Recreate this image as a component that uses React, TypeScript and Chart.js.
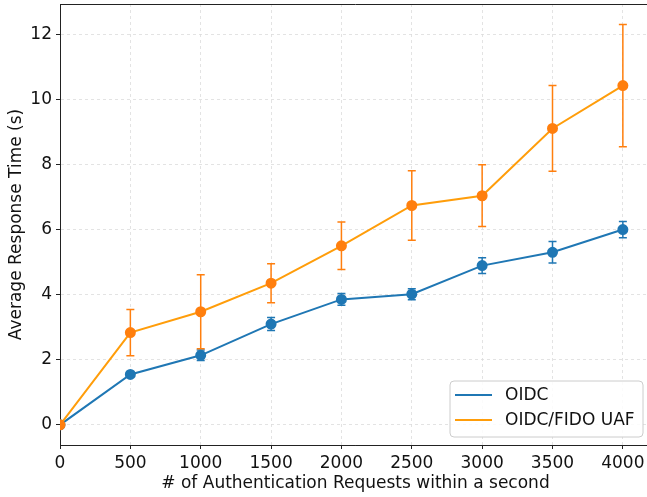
import React, { useEffect, useRef } from "react";
import { Chart, registerables } from "chart.js";

Chart.register(...registerables);

const requests = [0, 500, 1000, 1500, 2000, 2500, 3000, 3500, 4000];
const oidcMean = [0, 1.55, 2.14, 3.1, 3.86, 4.02, 4.9, 5.31, 6.01];
const oidcErr = [0, 0.05, 0.16, 0.2, 0.18, 0.17, 0.24, 0.33, 0.25];
const fidoMean = [0, 2.84, 3.48, 4.36, 5.51, 6.75, 7.05, 9.12, 10.44];
const fidoErr = [0, 0.71, 1.14, 0.6, 0.73, 1.07, 0.95, 1.32, 1.88];
const xTicks = [0, 500, 1000, 1500, 2000, 2500, 3000, 3500, 4000];
const yTicks = [0, 2, 4, 6, 8, 10, 12];
const seriesNames = ["OIDC", "OIDC/FIDO UAF"];

const BLUE = "#1f77b4";
const ORANGE_MARK = "#ff7f0e";
const ORANGE_LINE = "#ff9d0a";
const FONT = "'DejaVu Sans', sans-serif";

const errorBarPlugin = {
  id: "errorBars",
  beforeDatasetsDraw(chart: any) {
    const ctx = chart.ctx;
    const xs = chart.scales.x;
    const ys = chart.scales.y;
    const sets = [
      { mean: oidcMean, err: oidcErr, color: BLUE },
      { mean: fidoMean, err: fidoErr, color: ORANGE_MARK },
    ];
    ctx.save();
    for (const s of sets) {
      ctx.strokeStyle = s.color;
      ctx.lineWidth = 1.5;
      for (let i = 0; i < requests.length; i++) {
        if (!s.err[i]) continue;
        const px = xs.getPixelForValue(requests[i]);
        const top = ys.getPixelForValue(s.mean[i] + s.err[i]);
        const bot = ys.getPixelForValue(s.mean[i] - s.err[i]);
        ctx.beginPath();
        ctx.moveTo(px, top);
        ctx.lineTo(px, bot);
        ctx.moveTo(px - 4, top);
        ctx.lineTo(px + 4, top);
        ctx.moveTo(px - 4, bot);
        ctx.lineTo(px + 4, bot);
        ctx.stroke();
      }
    }
    ctx.restore();
  },
  afterDraw(chart: any) {
    const ctx = chart.ctx;
    const a = chart.chartArea;
    ctx.save();
    // top spine
    ctx.strokeStyle = "#222";
    ctx.lineWidth = 1;
    ctx.beginPath();
    ctx.moveTo(a.left, a.top + 0.5);
    ctx.lineTo(a.right, a.top + 0.5);
    ctx.stroke();
    // legend
    const bx = 450, by = 381, bw = 193, bh = 56, r = 4;
    ctx.fillStyle = "rgba(255,255,255,0.85)";
    ctx.strokeStyle = "#cccccc";
    ctx.lineWidth = 1;
    ctx.beginPath();
    ctx.moveTo(bx + r, by);
    ctx.lineTo(bx + bw - r, by);
    ctx.arcTo(bx + bw, by, bx + bw, by + r, r);
    ctx.lineTo(bx + bw, by + bh - r);
    ctx.arcTo(bx + bw, by + bh, bx + bw - r, by + bh, r);
    ctx.lineTo(bx + r, by + bh);
    ctx.arcTo(bx, by + bh, bx, by + bh - r, r);
    ctx.lineTo(bx, by + r);
    ctx.arcTo(bx, by, bx + r, by, r);
    ctx.closePath();
    ctx.fill();
    ctx.stroke();
    const colors = [BLUE, ORANGE_LINE];
    ctx.font = `17px ${FONT}`;
    ctx.textBaseline = "middle";
    ctx.textAlign = "left";
    for (let i = 0; i < seriesNames.length; i++) {
      const y = 395 + i * 25;
      ctx.strokeStyle = colors[i];
      ctx.lineWidth = 2;
      ctx.beginPath();
      ctx.moveTo(455, y);
      ctx.lineTo(492, y);
      ctx.stroke();
      ctx.fillStyle = "#111";
      ctx.fillText(seriesNames[i], 505, y + 1);
    }
    ctx.restore();
  },
};

export default function App() {
  const ref = useRef<HTMLCanvasElement>(null);
  useEffect(() => {
    if (!ref.current) return;
    const gridCommon = {
      color: "#dcdcdc",
      lineWidth: 0.8,
      tickColor: "#222",
      tickBorderDash: [],
      tickWidth: 1,
      tickLength: 4,
      drawTicks: true,
    };
    const chart = new Chart(ref.current, {
      type: "line",
      data: {
        datasets: [
          {
            label: seriesNames[0],
            data: requests.map((x, i) => ({ x, y: oidcMean[i] })),
            borderColor: BLUE,
            backgroundColor: BLUE,
            pointBackgroundColor: BLUE,
            pointBorderColor: BLUE,
            pointRadius: 4.5,
            borderWidth: 2,
            order: 1,
          },
          {
            label: seriesNames[1],
            data: requests.map((x, i) => ({ x, y: fidoMean[i] })),
            borderColor: ORANGE_LINE,
            backgroundColor: ORANGE_MARK,
            pointBackgroundColor: ORANGE_MARK,
            pointBorderColor: ORANGE_MARK,
            pointRadius: 4.5,
            borderWidth: 2,
            order: 0,
          },
        ],
      },
      options: {
        animation: false,
        responsive: false,
        devicePixelRatio: 1,
        layout: { autoPadding: false, padding: { top: 4, left: 0, right: 0, bottom: 0 } },
        plugins: { legend: { display: false }, tooltip: { enabled: false } },
        scales: {
          x: {
            type: "linear",
            min: 0,
            max: 4200,
            afterBuildTicks: (s: any) => {
              s.ticks = xTicks.map((v) => ({ value: v }));
            },
            afterFit: (s: any) => {
              s.height = 52;
              s.paddingLeft = 0;
              s.paddingRight = 0;
            },
            grid: gridCommon,
            border: { display: true, color: "#222", width: 1, dash: [3, 3] },
            ticks: {
              color: "#111",
              padding: 4,
              font: { family: FONT, size: 17 },
              maxRotation: 0,
              autoSkip: false,
              callback: (v: any) => String(v),
            },
            title: {
              display: true,
              text: "# of Authentication Requests within a second",
              color: "#111",
              font: { family: FONT, size: 17 },
              padding: { top: 0, bottom: 3 },
            },
          },
          y: {
            type: "linear",
            min: -0.62,
            max: 12.95,
            afterBuildTicks: (s: any) => {
              s.ticks = yTicks.map((v) => ({ value: v }));
            },
            afterFit: (s: any) => {
              s.width = 60;
              s.paddingTop = 0;
              s.paddingBottom = 0;
            },
            grid: gridCommon,
            border: { display: true, color: "#222", width: 1, dash: [3, 3] },
            ticks: {
              color: "#111",
              padding: 4,
              font: { family: FONT, size: 17 },
              callback: (v: any) => String(v),
            },
            title: {
              display: true,
              text: "Average Response Time (s)",
              color: "#111",
              font: { family: FONT, size: 17 },
              padding: { top: 6, bottom: 0 },
            },
          },
        },
      } as any,
      plugins: [errorBarPlugin],
    });
    return () => chart.destroy();
  }, []);
  return (
    <div
      style={{
        position: "fixed",
        left: 0,
        top: 0,
        width: 647,
        height: 497,
        overflow: "hidden",
        background: "#fff",
      }}
    >
      <canvas ref={ref} width={651} height={497} style={{ display: "block" }} />
    </div>
  );
}
